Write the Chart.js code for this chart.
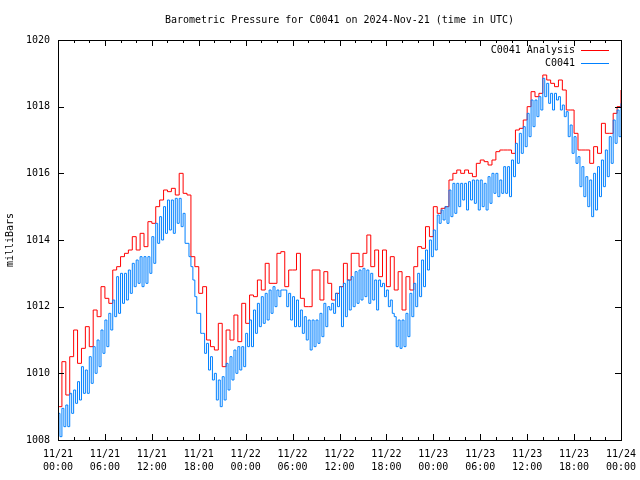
<!DOCTYPE html>
<html>
<head>
<meta charset="utf-8">
<title>Barometric Pressure C0041</title>
<script src="https://cdn.jsdelivr.net/npm/chart.js@4.4.1/dist/chart.umd.min.js"></script>
<style>
  html, body { margin: 0; padding: 0; background: #fff; }
</style>
</head>
<body>
<canvas id="pressureChart" width="640" height="480"></canvas>
<script>
// readings every 30 min from 11/21 00:00 UTC (hour 0) to 11/24 00:00 (hour 72)
const analysis = [
  1009.0, 1010.35, 1009.35, 1010.5, 1011.3, 1010.3, 1010.75, 1011.4, 1010.8, 1011.9, 1011.7, 1012.6,
  1012.25, 1012.1, 1013.1, 1013.2, 1013.5, 1013.6, 1013.7, 1014.1, 1013.7, 1014.2, 1013.8, 1014.55,
  1014.5, 1015.0, 1015.2, 1015.5, 1015.45, 1015.55, 1015.35, 1016.0, 1015.4, 1015.35, 1013.5, 1013.2,
  1012.4, 1012.6, 1011.0, 1010.8, 1010.7, 1011.5, 1010.2, 1011.3, 1011.0, 1011.75, 1010.95, 1012.1,
  1011.5, 1012.35, 1012.3, 1012.8, 1012.5, 1013.3, 1012.7, 1012.7, 1013.6, 1013.65, 1012.6, 1013.1,
  1013.1, 1013.6, 1012.25, 1012.0, 1012.0, 1013.1, 1013.1, 1012.2, 1013.05, 1012.7, 1012.2, 1012.4,
  1012.6, 1013.3, 1012.8, 1013.6, 1013.6, 1013.2, 1013.6, 1014.15, 1013.2, 1013.7, 1012.9, 1013.7,
  1012.6, 1013.5, 1012.5, 1013.05, 1011.9, 1012.9, 1012.5, 1013.2, 1013.8, 1013.75, 1014.4, 1014.1,
  1015.0, 1014.8, 1014.95, 1015.0, 1015.8, 1016.0, 1016.1, 1016.0, 1016.1, 1016.0, 1015.9, 1016.3,
  1016.4, 1016.35, 1016.25, 1016.4, 1016.65, 1016.7, 1016.7, 1016.7, 1016.6, 1017.3, 1017.35, 1017.6,
  1018.0, 1018.45, 1018.3, 1018.4, 1018.95, 1018.8, 1018.7, 1018.6, 1018.8, 1018.5, 1017.9, 1017.9,
  1017.2, 1016.7, 1016.7, 1016.7, 1016.3, 1016.8, 1016.6, 1017.5, 1017.2, 1017.2, 1017.8, 1018.0,
  1018.5
];

// station readings on the hour / half hour
const stationHigh = [
  1008.8, 1008.95, 1009.05, 1009.4, 1009.5, 1009.75, 1010.2, 1010.1, 1010.5, 1010.8, 1011.0, 1011.3,
  1011.6, 1011.8, 1012.2, 1012.9, 1013.0, 1013.0, 1013.1, 1013.3, 1013.4, 1013.5, 1013.5, 1013.5,
  1014.1, 1014.5, 1014.7, 1015.0, 1015.2, 1015.2, 1015.25, 1015.25, 1014.8, 1013.9, 1013.2, 1012.3,
  1011.8, 1011.2, 1010.9, 1010.5, 1010.0, 1009.8, 1009.9, 1010.3, 1010.5, 1010.7, 1010.8, 1010.8,
  1011.2, 1011.6, 1011.9, 1012.1, 1012.3, 1012.4, 1012.5, 1012.6, 1012.5, 1012.5, 1012.5, 1012.4,
  1012.3, 1012.2, 1011.9, 1011.7, 1011.6, 1011.6, 1011.6, 1011.8, 1012.1, 1012.0, 1012.1, 1012.4,
  1012.6, 1012.7, 1012.8, 1012.9, 1013.05, 1013.1, 1013.15, 1013.1, 1013.0, 1012.8, 1012.8, 1012.7,
  1012.5, 1012.2, 1011.7, 1011.6, 1011.6, 1011.8, 1012.4, 1012.7, 1013.0, 1013.4, 1013.7, 1014.0,
  1014.3, 1014.75, 1014.9, 1015.0, 1015.5, 1015.7, 1015.7, 1015.7, 1015.7, 1015.75, 1015.8, 1015.8,
  1015.8, 1015.7, 1015.9, 1016.0, 1016.0, 1015.8, 1016.2, 1016.2, 1016.4, 1016.9, 1017.2, 1017.4,
  1017.8, 1018.2, 1018.2, 1018.3, 1018.85, 1018.7, 1018.4, 1018.4, 1018.3, 1018.05, 1017.85, 1017.45,
  1017.1, 1016.5, 1016.2, 1015.9, 1015.8, 1016.0, 1016.2, 1016.4, 1016.7, 1017.1, 1017.6, 1017.9,
  1018.1
];

// station readings at :15 / :45 (the short dips)
const stationLow = [
  1008.1, 1008.4, 1008.4, 1008.8, 1009.1, 1009.2, 1009.4, 1009.4, 1009.7, 1010.0, 1010.2, 1010.6,
  1010.8, 1011.3, 1011.7, 1011.8, 1012.1, 1012.2, 1012.4, 1012.6, 1012.7, 1012.6, 1012.7, 1013.0,
  1013.3, 1013.9, 1014.0, 1014.2, 1014.3, 1014.2, 1014.5, 1014.4, 1013.9, 1013.5, 1012.8, 1011.8,
  1011.2, 1010.6, 1010.1, 1009.8, 1009.2, 1009.0, 1009.2, 1009.5, 1009.8, 1010.0, 1010.1, 1010.2,
  1010.8, 1010.8, 1011.2, 1011.4, 1011.5, 1011.6, 1011.8, 1012.0, 1012.3, 1012.5, 1012.0, 1011.6,
  1011.4, 1011.4, 1011.2, 1011.0, 1010.7, 1010.8, 1010.9, 1011.1, 1011.4, 1011.9, 1011.8, 1012.0,
  1011.4, 1011.7, 1011.9, 1012.0, 1012.1, 1012.2, 1012.3, 1012.1, 1012.2, 1011.9, 1012.6, 1012.3,
  1012.0, 1011.8, 1010.8, 1010.75, 1010.8, 1011.1, 1011.7, 1012.0, 1012.3, 1012.6, 1013.1, 1013.5,
  1013.7, 1014.5, 1014.6, 1014.5, 1014.7, 1014.8, 1015.0, 1015.2, 1014.9, 1015.2, 1015.1, 1014.9,
  1015.0, 1014.9, 1015.1, 1015.4, 1015.3, 1015.4, 1015.4, 1015.3, 1015.9, 1016.3, 1016.6, 1016.8,
  1017.1, 1017.4, 1017.7, 1017.9, 1018.3, 1018.1, 1017.9, 1018.2, 1017.9, 1017.7, 1017.1, 1016.6,
  1016.3, 1015.6, 1015.3, 1015.0, 1014.7, 1014.9, 1015.3, 1015.6, 1015.9, 1016.3, 1016.9, 1017.1,
  1018.1
];

const xMajorHours = [0, 6, 12, 18, 24, 30, 36, 42, 48, 54, 60, 66, 72];
const xMinorHours = [0, 2, 4, 6, 8, 10, 12, 14, 16, 18, 20, 22, 24, 26, 28, 30, 32, 34, 36,
                     38, 40, 42, 44, 46, 48, 50, 52, 54, 56, 58, 60, 62, 64, 66, 68, 70, 72];
const xTickLabels = [
  ['11/21', '00:00'], ['11/21', '06:00'], ['11/21', '12:00'], ['11/21', '18:00'],
  ['11/22', '00:00'], ['11/22', '06:00'], ['11/22', '12:00'], ['11/22', '18:00'],
  ['11/23', '00:00'], ['11/23', '06:00'], ['11/23', '12:00'], ['11/23', '18:00'],
  ['11/24', '00:00']
];
const yTicks = [1008, 1010, 1012, 1014, 1016, 1018, 1020];

const FONT = '"DejaVu Sans Mono", monospace';

// half-hour samples -> points on an hours axis
const analysisPoints = analysis.map((v, i) => ({ x: i * 0.5, y: v }));
const stationPoints = [];
stationHigh.forEach((v, i) => {
    stationPoints.push({ x: i * 0.5, y: v });
    if (i < stationHigh.length - 1) stationPoints.push({ x: i * 0.5 + 0.25, y: stationLow[i] });
});

// gnuplot style frame: inward ticks, title, legend
const gnuFrame = {
    id: 'gnuFrame',
    afterDatasetsDraw(chart) {
        const { ctx, chartArea: a, scales: { x, y } } = chart;
        ctx.save();
        ctx.strokeStyle = '#000';
        ctx.lineWidth = 1;
        ctx.beginPath();
        xMinorHours.forEach(h => {
            const px = Math.round(x.getPixelForValue(h)) + 0.5;
            const len = xMajorHours.includes(h) ? 6 : 3;
            ctx.moveTo(px, a.bottom); ctx.lineTo(px, a.bottom - len);
            ctx.moveTo(px, a.top); ctx.lineTo(px, a.top + len);
        });
        yTicks.forEach(v => {
            const py = Math.round(y.getPixelForValue(v)) + 0.5;
            ctx.moveTo(a.left, py); ctx.lineTo(a.left + 6, py);
            ctx.moveTo(a.right, py); ctx.lineTo(a.right - 6, py);
        });
        ctx.stroke();
        ctx.strokeRect(Math.round(a.left) + 0.5, Math.round(a.top) + 0.5,
                       Math.round(a.right - a.left), Math.round(a.bottom - a.top));

        ctx.fillStyle = '#000';
        ctx.font = '10px ' + FONT;
        ctx.textAlign = 'center';
        ctx.textBaseline = 'middle';
        ctx.fillText('Barometric Pressure for C0041 on 2024-Nov-21 (time in UTC)', (a.left + a.right) / 2, 20);

        // legend top right
        ctx.textAlign = 'right';
        chart.data.datasets.forEach((ds, i) => {
            const ly = Math.round(a.top + 10 + i * 12.7) + 0.5;
            ctx.fillStyle = '#000';
            ctx.fillText(ds.label, a.right - 46, ly);
            ctx.strokeStyle = ds.borderColor;
            ctx.beginPath();
            ctx.moveTo(a.right - 40, ly);
            ctx.lineTo(a.right - 12, ly);
            ctx.stroke();
        });
        ctx.restore();
    }
};

Chart.defaults.font.family = FONT;
Chart.defaults.font.size = 10;
Chart.defaults.color = '#000';

new Chart(document.getElementById('pressureChart'), {
    type: 'line',
    data: {
        datasets: [{
            label: 'C0041 Analysis',
            data: analysisPoints,
            borderColor: '#ff0000',
            borderWidth: 1,
            pointRadius: 0,
            stepped: true,
            order: 2
        }, {
            label: 'C0041',
            data: stationPoints,
            borderColor: '#0080ff',
            borderWidth: 1,
            pointRadius: 0,
            stepped: true,
            order: 1
        }]
    },
    options: {
        responsive: false,
        animation: false,
        layout: { padding: { top: 40, right: 19, left: 0, bottom: 0 } },
        plugins: {
            legend: { display: false },
            tooltip: { enabled: false }
        },
        scales: {
            x: {
                type: 'linear',
                min: 0,
                max: 72,
                grid: { display: false, drawTicks: false },
                border: { display: false },
                afterBuildTicks: s => { s.ticks = xMajorHours.map(v => ({ value: v })); },
                afterFit: s => { s.height = 40; s.paddingLeft = 0; s.paddingRight = 0; },
                ticks: {
                    autoSkip: false,
                    maxRotation: 0,
                    padding: 8,
                    font: { lineHeight: 1.3 },
                    callback: v => xTickLabels[xMajorHours.indexOf(v)]
                }
            },
            y: {
                min: 1008,
                max: 1020,
                grid: { display: false, drawTicks: false },
                border: { display: false },
                afterBuildTicks: s => { s.ticks = yTicks.map(v => ({ value: v })); },
                afterFit: s => { s.width = 58; },
                ticks: { padding: 8, callback: v => String(v) },
                title: { display: true, text: 'milliBars', padding: { top: 4, bottom: 0 } }
            }
        }
    },
    plugins: [gnuFrame]
});
</script>
</body>
</html>
